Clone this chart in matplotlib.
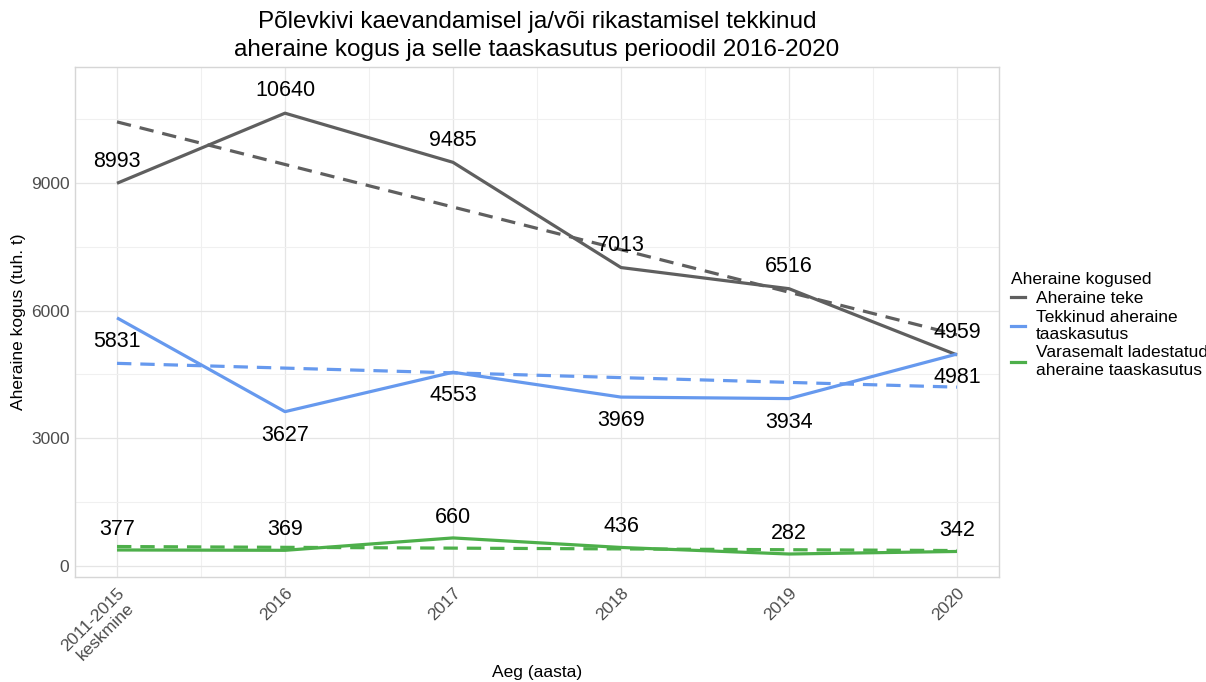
import numpy as np
import matplotlib
matplotlib.use("Agg")
import matplotlib.pyplot as plt
from matplotlib.lines import Line2D

plt.rcParams['font.family'] = ['Liberation Sans', 'DejaVu Sans']

categories = ["2011-2015\nkeskmine", "2016", "2017", "2018", "2019", "2020"]
teke = [8993, 10640, 9485, 7013, 6516, 4959]
tekkinud = [5831, 3627, 4553, 3969, 3934, 4981]
varasemalt = [377, 369, 660, 436, 282, 342]
series_names = ["Aheraine teke", "Tekkinud aheraine\ntaaskasutus",
                "Varasemalt ladestatud\naheraine taaskasutus"]
colors = ["#5F5F5F", "#6699EE", "#4DAF4A"]
label_offsets = [16, -17, 15]

fig = plt.figure(figsize=(12.06, 6.82), dpi=100)
ax = fig.add_axes([75/1206, 1 - 577/682, (999-75)/1206, (577-67)/682])

x = np.arange(1, len(categories) + 1)
for vals, col, off in zip([teke, tekkinud, varasemalt], colors, label_offsets):
    vals = np.array(vals, dtype=float)
    ax.plot(x, vals, color=col, lw=2.3, solid_capstyle='butt', zorder=3)
    coef = np.polyfit(x, vals, 1)
    ax.plot(x, np.polyval(coef, x), color=col, lw=2.3, ls=(0, (4.5, 2.8)), zorder=3)
    for xi, v in zip(x, vals):
        ax.annotate(f"{int(v)}", (xi, v), xytext=(0, off), textcoords="offset points",
                    ha='center', va='center', fontsize=15.5, color='black', zorder=4)

ax.set_xlim(0.75, 6.25)
ax.set_ylim(-258, 11725)
ax.set_xticks(x)
ax.set_xticklabels(categories, rotation=45, ha='right', rotation_mode='anchor',
                   multialignment='center')
ax.set_xticks(np.arange(1.5, 6, 1), minor=True)
ax.set_yticks([0, 3000, 6000, 9000])
ax.set_yticks([1500, 4500, 7500, 10500], minor=True)
ax.tick_params(axis='both', which='both', length=0, labelsize=12.5, colors='#4D4D4D')
ax.tick_params(axis='x', pad=6)
ax.tick_params(axis='y', pad=4)
ax.grid(True, which='major', color='#E5E5E5', lw=0.9)
ax.grid(True, which='minor', color='#F0F0F0', lw=0.8)
ax.set_axisbelow(True)
for s in ax.spines.values():
    s.set_color('#D6D6D6')
    s.set_linewidth(1.0)

ax.set_xlabel("Aeg (aasta)", fontsize=12.5)
ax.xaxis.set_label_coords(0.5, -(672 - 577) / (577 - 67), transform=ax.transAxes)
ax.xaxis.label.set_va('center')
ax.set_ylabel("Aheraine kogus (tuh. t)", fontsize=12.5)
ax.yaxis.set_label_coords(-(75 - 18) / (999 - 75), 0.5, transform=ax.transAxes)
ax.yaxis.label.set_va('center')
fig.text(537/1206, 1 - 36/682,
         "Põlevkivi kaevandamisel ja/või rikastamisel tekkinud\n"
         "aheraine kogus ja selle taaskasutus perioodil 2016-2020",
         fontsize=17.5, ha='center', va='center', linespacing=1.3)

handles = [Line2D([0], [0], color=c, lw=2.3) for c in colors]
leg = fig.legend(handles, series_names, title="Aheraine kogused",
                 loc='upper left', bbox_to_anchor=(1008/1206, 1 - 269/682),
                 frameon=False, fontsize=12.5, title_fontsize=12.5,
                 handlelength=0.8, handletextpad=0.6, labelspacing=0.2,
                 borderaxespad=0, borderpad=0.2)
leg._legend_box.align = "left"

fig.savefig("out.png", dpi=100)
